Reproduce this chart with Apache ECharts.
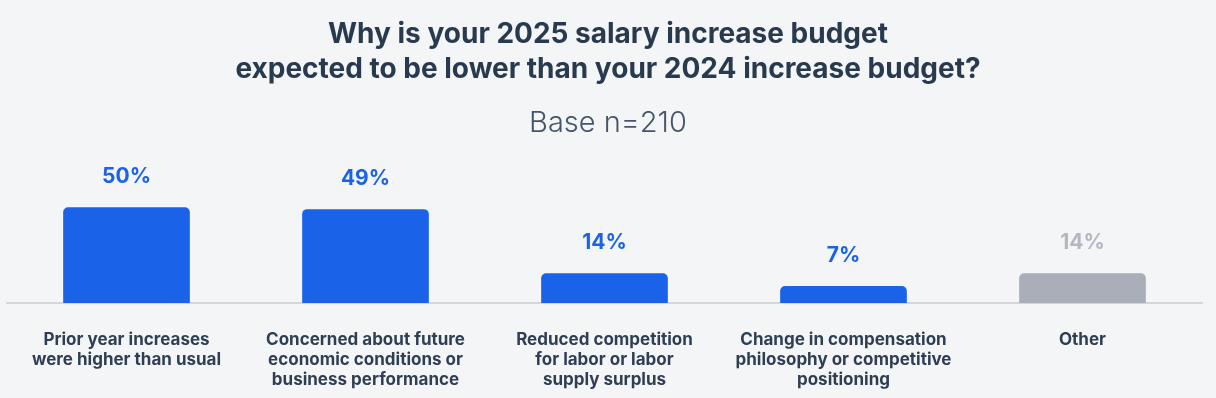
<!DOCTYPE html>
<html>
<head>
<meta charset="utf-8">
<script src="https://cdn.jsdelivr.net/npm/echarts@6/dist/echarts.min.js"></script>
<style>
  html, body { margin: 0; padding: 0; background: #f3f5f7; }
  #chart { width: 1216px; height: 398px; }
</style>
</head>
<body>
<div id="chart"></div>
<script>
// categories and values
const categories = [
  'Prior year increases\nwere higher than usual',
  'Concerned about future\neconomic conditions or\nbusiness performance',
  'Reduced competition\nfor labor or labor\nsupply surplus',
  'Change in compensation\nphilosophy or competitive\npositioning',
  'Other'
]
const values = [50, 49, 14, 7, 14]
const barColors = ['#1a63e8', '#1a63e8', '#1a63e8', '#1a63e8', '#a9aeb8']
const labelColors = ['#1a63e8', '#1a63e8', '#1a63e8', '#1a63e8', '#b3b7bf']

const chart = echarts.init(document.getElementById('chart'))

const option = {
  backgroundColor: '#f3f5f7',
  title: [
    {
      text: 'Why is your 2025 salary increase budget\nexpected to be lower than your 2024 increase budget?',
      left: 'center',
      top: 12,
      textStyle: {
        fontFamily: 'Inter',
        fontSize: 28,
        fontWeight: 'bold',
        color: '#293a4f',
        lineHeight: 35
      }
    },
    {
      text: 'Base n=210',
      left: 'center',
      top: 104,
      textStyle: {
        fontFamily: 'Inter',
        fontSize: 29,
        fontWeight: 300,
        color: '#46566a'
      }
    }
  ],
  grid: {
    left: 7,
    right: 14,
    top: 189,
    bottom: 95,
    containLabel: false
  },
  xAxis: {
    type: 'category',
    data: categories,
    axisLine: { onZero: false, lineStyle: { color: '#d3d7dc', width: 2 } },
    axisTick: { inside: true, length: 13, lineStyle: { color: '#d3d7dc', width: 1 } },
    axisLabel: {
      interval: 0,
      margin: 27,
      fontFamily: 'Inter',
      fontSize: 17,
      fontWeight: 'bold',
      color: '#2f3e52',
      lineHeight: 20
    }
  },
  yAxis: {
    type: 'value',
    min: -2.3,
    max: 60,
    startValue: -2.3,
    show: false,
    splitLine: { show: false }
  },
  series: [
    {
      type: 'bar',
      barWidth: '53%',
      data: values.map((v, i) => ({
        value: v,
        itemStyle: { color: barColors[i] },
        label: { color: labelColors[i] }
      })),
      itemStyle: { borderRadius: [5, 5, 0, 0] },
      label: {
        show: true,
        position: 'top',
        distance: 20,
        formatter: '{c}%',
        fontFamily: 'Inter',
        fontSize: 21,
        fontWeight: 'bold'
      }
    }
  ]
}

chart.setOption(option)
</script>
</body>
</html>
